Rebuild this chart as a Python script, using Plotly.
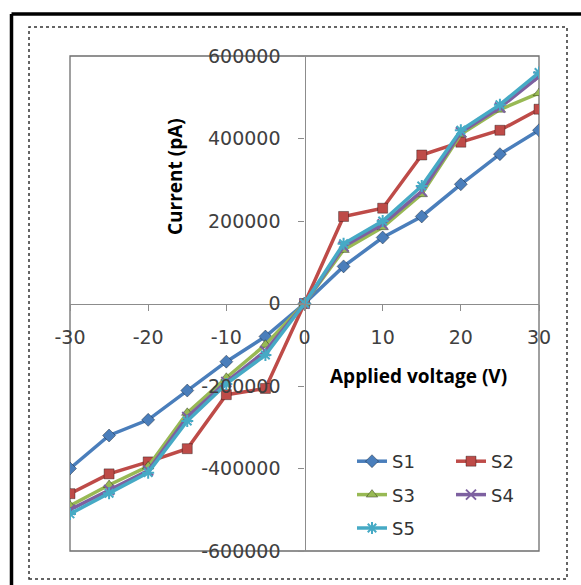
import plotly.graph_objects as go

voltage = [-30, -25, -20, -15, -10, -5, 0, 5, 10, 15, 20, 25, 30]
s1 = [-400000, -320000, -282000, -211000, -141000, -80000, 0, 90000, 160000, 211000, 289000, 362000, 420000]
s2 = [-461000, -413000, -384000, -352000, -221000, -206000, 0, 211000, 231000, 360000, 391000, 420000, 471000]
s3 = [-490000, -440000, -395000, -265000, -180000, -100000, 0, 130000, 185000, 265000, 410000, 470000, 510000]
s4 = [-500000, -452000, -405000, -275000, -190000, -115000, 0, 138000, 192000, 272000, 415000, 475000, 550000]
s5 = [-510000, -460000, -410000, -285000, -195000, -125000, 0, 145000, 200000, 285000, 420000, 482000, 560000]
series_names = ["S1", "S2", "S3", "S4", "S5"]
x_ticks = [-30, -20, -10, 0, 10, 20, 30]
x_tick_labels = ["-30", "-20", "-10", "0", "10", "20", "30"]
y_ticks = [-600000, -400000, -200000, 0, 200000, 400000, 600000]
y_tick_labels = ["-600000", "-400000", "-200000", "0", "200000", "400000", "600000"]

colors = ["#4A7EBB", "#BE4B48", "#98B954", "#7D60A0", "#46AAC5"]
symbols = ["diamond", "square", "triangle-up", "x-thin-open", "asterisk-open"]
legends = ["legend", "legend2", "legend", "legend2", "legend"]

fig = go.Figure()
for name, ys, c, sym, lg in zip(series_names, [s1, s2, s3, s4, s5], colors, symbols, legends):
    open_sym = sym.endswith("open")
    fig.add_trace(go.Scatter(
        x=voltage, y=ys, name=name, mode="lines+markers",
        line=dict(color=c, width=3.5),
        marker=dict(symbol=sym, size=10, color=c,
                    line=dict(color=c if open_sym else "rgba(0,0,0,0.35)", width=2 if open_sym else 1)),
        legend=lg, legendgroup=name,
    ))

W, H = 581, 585
L, R, T, B = 70, 42, 56, 34
pw, ph = W - L - R, H - T - B

def px(x):
    return (x - L) / pw

def py(y):
    return (H - B - y) / ph

tickfont = dict(family="DejaVu Sans", size=19, color="#404040")
legfont = dict(family="DejaVu Sans", size=18, color="#333")
fig.update_layout(
    width=W, height=H,
    margin=dict(l=L, r=R, t=T, b=B),
    paper_bgcolor="white", plot_bgcolor="white",
    xaxis=dict(range=[-30, 30], tickvals=x_ticks, ticktext=x_tick_labels,
               anchor="free", position=0.5,
               showline=True, linecolor="#8c8c8c", linewidth=1.3,
               ticks="outside", ticklen=6, tickcolor="#8c8c8c",
               showgrid=False, zeroline=False, tickfont=tickfont,
               ticklabelstandoff=11),
    yaxis=dict(range=[-600000, 600000], tickvals=y_ticks, ticktext=y_tick_labels,
               anchor="free", position=0.5,
               showline=True, linecolor="#8c8c8c", linewidth=1.3,
               ticks="outside", ticklen=6, tickcolor="#8c8c8c",
               showgrid=False, zeroline=False, tickfont=tickfont,
               ticklabelstandoff=14),
    legend=dict(x=px(352), y=py(443), xanchor="left", yanchor="top",
                bgcolor="rgba(0,0,0,0)", font=legfont,
                tracegroupgap=7, traceorder="grouped"),
    legend2=dict(x=px(451), y=py(443), xanchor="left", yanchor="top",
                 bgcolor="rgba(0,0,0,0)", font=legfont,
                 tracegroupgap=7, traceorder="grouped"),
    showlegend=True,
)

fig.add_shape(type="rect", xref="x domain", yref="y domain", x0=0, x1=1, y0=0, y1=1,
              line=dict(color="#6e6e6e", width=1.3), layer="below")
fig.add_shape(type="rect", xref="paper", yref="paper",
              x0=px(29), x1=px(567), y0=py(579), y1=py(27),
              line=dict(color="#333333", width=1.5, dash="dot"), layer="below")
# outer black frame: only its top and left edges fall inside the picture
fig.add_shape(type="line", xref="paper", yref="paper",
              x0=px(11.5), x1=px(581), y0=py(14), y1=py(14),
              line=dict(color="black", width=3.5), layer="below")
fig.add_shape(type="line", xref="paper", yref="paper",
              x0=px(11.5), x1=px(11.5), y0=py(585), y1=py(14),
              line=dict(color="black", width=3.5), layer="below")

fig.add_annotation(text="<b>Current (pA)</b>", xref="paper", yref="paper",
                   x=px(175), y=py(177), xanchor="center", yanchor="middle",
                   textangle=-90, showarrow=False,
                   font=dict(family="Open Sans", size=19, color="black"))
fig.add_annotation(text="<b>Applied voltage (V)</b>", xref="paper", yref="paper",
                   x=px(418), y=py(376), xanchor="center", yanchor="middle",
                   showarrow=False,
                   font=dict(family="Open Sans", size=19, color="black"))

fig.write_html(
    "out.html",
    post_script="document.documentElement.style.overflow='hidden';document.body.style.overflow='hidden';document.body.style.margin='0';",
)
